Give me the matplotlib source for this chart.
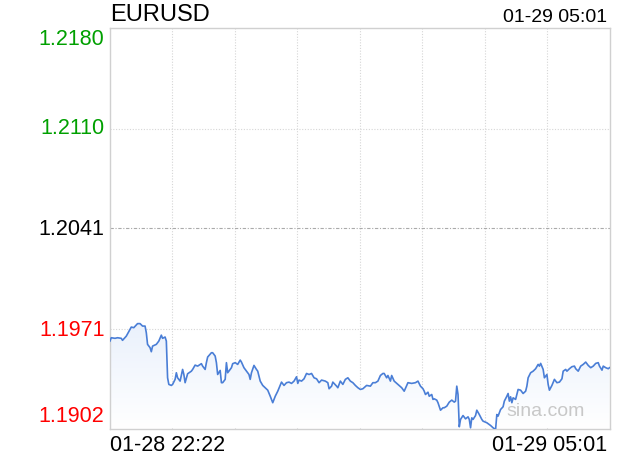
import numpy as np
import matplotlib
matplotlib.use("Agg")
import matplotlib.pyplot as plt
from matplotlib.colors import LinearSegmentedColormap

plt.rcParams['font.family'] = ['Liberation Sans', 'DejaVu Sans']

symbol = "EURUSD"
start_label = "01-28 22:22"
end_label = "01-29 05:01"
prev_close = 1.2041
y_ticks = [1.2180, 1.2110, 1.2041, 1.1971, 1.1902]
y_tick_labels = ["1.2180", "1.2110", "1.2041", "1.1971", "1.1902"]
y_tick_colors = ["#00a000", "#00a000", "#000000", "#ff0000", "#ff0000"]
total_minutes = 399

minutes = [0, 1, 4, 6, 9, 10, 13, 16, 17, 19, 22, 24, 26, 28, 29, 30, 32, 33, 34, 37,
           39, 41, 42, 44, 45, 46, 47, 49, 50, 52, 53, 54, 56, 58, 59, 60, 62, 65, 66, 68,
           70, 73, 74, 76, 77, 78, 81, 82, 84, 85, 86, 88, 89, 90, 92, 93, 94, 97, 98, 100,
           102, 104, 105, 107, 109, 111, 112, 113, 115, 117, 118, 120, 122, 124, 126, 128, 130, 132, 134, 137,
           139, 141, 143, 145, 147, 149, 150, 151, 153, 155, 157, 159, 161, 163, 165, 167, 169, 172, 174, 175,
           177, 178, 181, 182, 184, 186, 188, 190, 192, 194, 196, 198, 200, 202, 205, 208, 210, 212, 214, 216,
           218, 219, 221, 222, 224, 225, 227, 230, 233, 235, 237, 238, 241, 244, 246, 248, 250, 251, 252, 254,
           255, 257, 258, 259, 261, 262, 264, 266, 267, 269, 271, 273, 275, 276, 277, 278, 279, 280, 282, 284,
           286, 287, 288, 289, 290, 292, 293, 295, 297, 298, 301, 304, 306, 308, 309, 310, 312, 314, 315, 317,
           318, 319, 320, 321, 322, 324, 325, 326, 328, 330, 332, 333, 334, 336, 338, 340, 342, 343, 344, 346,
           347, 349, 350, 351, 353, 355, 357, 359, 361, 362, 364, 365, 367, 369, 371, 372, 374, 376, 378, 380,
           382, 384, 386, 388, 390, 391, 393, 394, 396, 398, 399]

prices = [1.19627, 1.19650, 1.19646, 1.19650, 1.19646, 1.19632, 1.19661, 1.19708, 1.19724, 1.19720,
          1.19748, 1.19748, 1.19731, 1.19731, 1.19685, 1.19604, 1.19581, 1.19553, 1.19592, 1.19604,
          1.19627, 1.19668, 1.19646, 1.19655, 1.19627, 1.19372, 1.19326, 1.19319, 1.19326, 1.19361,
          1.19407, 1.19372, 1.19349, 1.19430, 1.19395, 1.19338, 1.19400, 1.19418, 1.19430, 1.19460,
          1.19453, 1.19470, 1.19453, 1.19430, 1.19477, 1.19516, 1.19546, 1.19546, 1.19523, 1.19477,
          1.19395, 1.19423, 1.19338, 1.19338, 1.19361, 1.19477, 1.19407, 1.19442, 1.19470, 1.19477,
          1.19465, 1.19495, 1.19481, 1.19442, 1.19418, 1.19395, 1.19361, 1.19407, 1.19458, 1.19430,
          1.19418, 1.19349, 1.19319, 1.19303, 1.19286, 1.19244, 1.19199, 1.19244, 1.19279, 1.19342,
          1.19319, 1.19338, 1.19342, 1.19333, 1.19349, 1.19379, 1.19333, 1.19356, 1.19349, 1.19365,
          1.19402, 1.19395, 1.19402, 1.19372, 1.19365, 1.19338, 1.19356, 1.19349, 1.19338, 1.19296,
          1.19314, 1.19342, 1.19314, 1.19303, 1.19349, 1.19326, 1.19361, 1.19372, 1.19349, 1.19338,
          1.19319, 1.19303, 1.19291, 1.19296, 1.19319, 1.19314, 1.19338, 1.19338, 1.19349, 1.19388,
          1.19402, 1.19402, 1.19372, 1.19388, 1.19349, 1.19388, 1.19349, 1.19326, 1.19303, 1.19279,
          1.19319, 1.19338, 1.19333, 1.19338, 1.19349, 1.19314, 1.19296, 1.19279, 1.19256, 1.19272,
          1.19244, 1.19256, 1.19222, 1.19226, 1.19217, 1.19199, 1.19147, 1.19164, 1.19164, 1.19175,
          1.19203, 1.19217, 1.19203, 1.19210, 1.19314, 1.19256, 1.19032, 1.19083, 1.19110, 1.19087,
          1.19101, 1.19083, 1.19025, 1.19094, 1.19083, 1.19110, 1.19147, 1.19117, 1.19083, 1.19071,
          1.19060, 1.19041, 1.19025, 1.19013, 1.19117, 1.19106, 1.19152, 1.19171, 1.19210, 1.19244,
          1.19263, 1.19210, 1.19240, 1.19199, 1.19233, 1.19222, 1.19256, 1.19291, 1.19286, 1.19263,
          1.19279, 1.19314, 1.19372, 1.19407, 1.19418, 1.19435, 1.19465, 1.19453, 1.19472, 1.19430,
          1.19372, 1.19395, 1.19326, 1.19286, 1.19319, 1.19361, 1.19338, 1.19342, 1.19365, 1.19418,
          1.19430, 1.19418, 1.19435, 1.19449, 1.19453, 1.19435, 1.19418, 1.19453, 1.19465, 1.19481,
          1.19458, 1.19442, 1.19453, 1.19472, 1.19477, 1.19453, 1.19425, 1.19453, 1.19442, 1.19435,
          1.19442]

x = np.array(minutes, dtype=float)
y = np.array(prices)

fig = plt.figure(figsize=(6.2, 4.6), dpi=100)
ax = fig.add_axes([110 / 620, 30.5 / 460, 499.5 / 620, 400.5 / 460])
ymin, ymax = y_ticks[-1], y_ticks[0]
ax.set_xlim(0, total_minutes)
ax.set_ylim(ymin, ymax)

# gradient fill under the line
cmap = LinearSegmentedColormap.from_list("g", ["#ffffff", "#eaf1fc"])
grad = np.linspace(0, 1, 256).reshape(-1, 1)
top_val = y.max()
im = ax.imshow(grad, extent=[0, total_minutes, ymin, top_val], origin="lower",
               cmap=cmap, aspect="auto", zorder=1)
poly = ax.fill_between(x, y, ymin, color="none", lw=0)
path = poly.get_paths()[0]
im.set_clip_path(path, transform=ax.transData)

# grid
for k in range(1, 8):
    ax.axvline(total_minutes * k / 8, color="#d6d6d6", lw=0.8, ls=(0, (1, 1.5)), zorder=0.5)
for v in [y_ticks[1], y_ticks[3]]:
    ax.axhline(v, color="#d6d6d6", lw=0.8, ls=(0, (1, 1.5)), zorder=0.5)
ax.axhline(prev_close, color="#aaaaaa", lw=0.8, ls=(0, (3, 1.5, 1, 1.5)), zorder=0.5)

ax.plot(x, y, color="#4a7ed6", lw=1.2, zorder=3)

for s in ax.spines.values():
    s.set_color("#d0d0d0")
    s.set_linewidth(1.0)
ax.set_xticks([])
ax.set_yticks([])

# y labels
ytr = ax.get_yaxis_transform()
offsets = [-10, 1, 0, 0, 13]
for v, lab, c, off in zip(y_ticks, y_tick_labels, y_tick_colors, offsets):
    ax.annotate(lab, xy=(0, v), xycoords=ytr, xytext=(-4, off * 0.72),
                textcoords="offset points", ha="right", va="center",
                fontsize=15.5, color=c)

fig.text(110 / 620, 1 - 15 / 460, symbol, ha="left", va="center", fontsize=17, color="#000000")
fig.text(607 / 620, 1 - 18 / 460, end_label, ha="right", va="center", fontsize=14, color="#000000")
fig.text(110 / 620, 1 - 446 / 460, start_label, ha="left", va="center", fontsize=15.5, color="#000000")
fig.text(607 / 620, 1 - 446 / 460, end_label, ha="right", va="center", fontsize=15.5, color="#000000")
fig.text(546 / 620, 1 - 412 / 460, "sina.com", ha="center", va="center", fontsize=14, color="#c8c8c8")

fig.savefig("out.png", dpi=100)
